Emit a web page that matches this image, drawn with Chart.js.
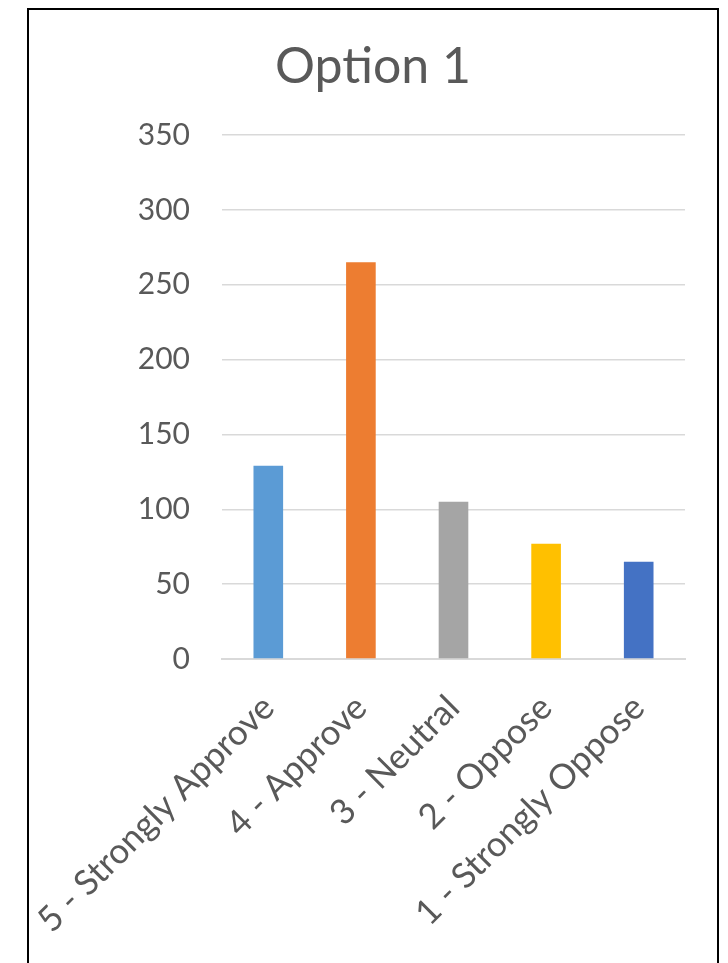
<!DOCTYPE html>
<html>
<head>
<meta charset="utf-8">
<script src="https://cdn.jsdelivr.net/npm/chart.js@4/dist/chart.umd.min.js"></script>
<style>
  html, body { margin: 0; padding: 0; background: #fff; }
  #wrap { position: absolute; left: 0; top: 0; width: 728px; height: 963px; }
  #frame { position: absolute; left: 27px; top: 8px; width: 692px; height: 980px; border: 2px solid #000; box-sizing: border-box; }
</style>
</head>
<body>
<div id="frame"></div>
<div id="wrap"><canvas id="c"></canvas></div>
<script>
const categories = ["5 - Strongly Approve", "4 - Approve", "3 - Neutral", "2 - Oppose", "1 - Strongly Oppose"];
const values = [129, 265, 105, 77, 65];
const yTicks = [0, 50, 100, 150, 200, 250, 300, 350];
const chartTitle = "Option 1";

const barColors = ["#5B9BD5", "#ED7D31", "#A5A5A5", "#FFC000", "#4472C4"];
const textColor = "#595959";
const fontFamily = "Lato, 'Open Sans', sans-serif";

// Title centred on the chart frame (real canvas text)
const frameTitle = {
  id: 'frameTitle',
  afterDraw(chart) {
    const ctx = chart.ctx;
    ctx.save();
    ctx.fillStyle = textColor;
    ctx.font = "50px " + fontFamily;
    ctx.textAlign = 'center';
    ctx.textBaseline = 'alphabetic';
    ctx.fillText(chartTitle, 373, 83);
    ctx.restore();
  }
};

new Chart(document.getElementById('c'), {
  type: 'bar',
  data: {
    labels: categories,
    datasets: [{
      data: values,
      backgroundColor: barColors,
      borderWidth: 0,
      barPercentage: 0.32,
      categoryPercentage: 1.0
    }]
  },
  plugins: [frameTitle],
  options: {
    responsive: true,
    maintainAspectRatio: false,
    animation: false,
    layout: { padding: { left: 0, right: 43, top: 135, bottom: 0 } },
    plugins: {
      legend: { display: false },
      tooltip: { enabled: false },
      title: { display: false }
    },
    scales: {
      x: {
        grid: { display: false, drawTicks: false },
        border: { display: true, color: '#D9D9D9', width: 2 },
        ticks: {
          color: textColor,
          font: { family: fontFamily, size: 35 },
          minRotation: 45,
          maxRotation: 45,
          padding: 28,
          autoSkip: false
        },
        afterFit(scale) {
          scale.height = 963 - 659;
          scale.paddingLeft = 0;
          scale.paddingRight = 0;
        }
      },
      y: {
        min: 0,
        max: 350,
        afterBuildTicks(scale) { scale.ticks = yTicks.map(v => ({ value: v })); },
        grid: { color: '#D9D9D9', lineWidth: 1.5, drawTicks: false },
        border: { display: false },
        ticks: {
          color: textColor,
          font: { family: fontFamily, size: 30 },
          padding: 32
        },
        afterFit(scale) { scale.width = 222; }
      }
    }
  }
});
</script>
</body>
</html>
